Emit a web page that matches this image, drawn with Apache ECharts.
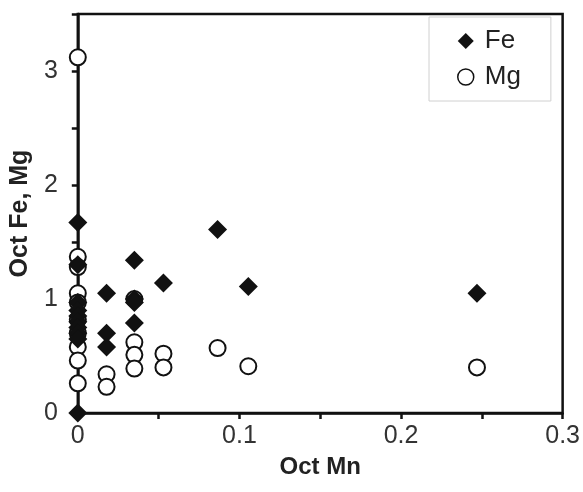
<!DOCTYPE html>
<html><head><meta charset="utf-8">
<script src="https://cdn.jsdelivr.net/npm/echarts@6/dist/echarts.min.js"></script>
<style>html,body{margin:0;padding:0;background:#fff}#c{width:583px;height:492px}</style>
</head><body><div id="c"></div>
<script>
const feX = [0,0,0,0,0,0,0,0,0,0, 0.0178,0.0178,0.0178, 0.035,0.035,0.035,0.035, 0.053, 0.0865, 0.1055, 0.247];
const feY = [1.67,1.30,0.97,0.90,0.85,0.80,0.75,0.70,0.65,0, 1.05,0.70,0.58, 1.34,1.00,0.97,0.79, 1.14, 1.61, 1.11, 1.05];
const mgX = [0,0,0,0,0,0,0,0,0,0, 0.0178,0.0178, 0.035,0.035,0.035,0.035, 0.053,0.053, 0.0865, 0.1055, 0.247];
const mgY = [3.12,1.37,1.28,1.05,0.97,0.82,0.70,0.58,0.46,0.26, 0.34,0.23, 1.00,0.62,0.51,0.39, 0.52,0.40, 0.57, 0.41, 0.40];
const xTicks = [0, 0.1, 0.2, 0.3];
const yTicks = [0, 1, 2, 3];

const fe = feX.map((x,i)=>[x,feY[i]]);
const mg = mgX.map((x,i)=>[x,mgY[i]]);
const near = (v, arr) => arr.some(t => Math.abs(t - v) < 1e-6);
const FONT = 'Liberation Sans, Arial, sans-serif';
const chart = echarts.init(document.getElementById('c'));
chart.setOption({
  animation:false,
  textStyle:{fontFamily:FONT},
  grid:{left:77,right:17,top:14,bottom:79,show:true,borderColor:'#111',borderWidth:2.5,backgroundColor:'transparent'},
  legend:{
    left:429, top:17, orient:'vertical', itemGap:10,
    borderColor:'#d0d0d0', borderWidth:1, padding:[11,30,11,28],
    itemWidth:16,itemHeight:16,
    textStyle:{fontSize:26,color:'#222',fontFamily:FONT,padding:[0,0,0,6]},
    data:[
      {name:'Fe',icon:'diamond',itemStyle:{color:'#111'}},
      {name:'Mg',icon:'circle',itemStyle:{color:'#fff',borderColor:'#111',borderWidth:1.5}}
    ]
  },
  xAxis:{
    type:'value', min:0, max:0.3, interval:0.05,
    name:'Oct Mn', nameLocation:'middle', nameGap:42,
    nameTextStyle:{fontSize:24,fontWeight:'bold',color:'#222'},
    axisLine:{show:true,lineStyle:{color:'#111',width:2.5}},
    axisTick:{show:true,length:6,inside:false,lineStyle:{color:'#111',width:2.5}},
    axisLabel:{fontSize:25,color:'#333',margin:11,formatter:v=>near(v,xTicks)?String(+v.toFixed(2)):''},
    splitLine:{show:false}
  },
  yAxis:{
    type:'value', min:0, max:3.5, interval:0.5,
    name:'Oct Fe, Mg', nameLocation:'middle', nameGap:30,
    nameTextStyle:{fontSize:25,fontWeight:'bold',color:'#222'},
    axisLine:{show:true,lineStyle:{color:'#111',width:2.5}},
    axisTick:{show:true,length:6,inside:false,lineStyle:{color:'#111',width:2.5}},
    axisLabel:{fontSize:25,color:'#333',margin:20,formatter:v=>near(v,yTicks)?String(v):''},
    splitLine:{show:false}
  },
  series:[
    {name:'Fe',type:'scatter',data:fe,symbol:'diamond',symbolSize:19,
     itemStyle:{color:'#111',opacity:1},z:3},
    {name:'Mg',type:'scatter',data:mg,symbol:'circle',symbolSize:16,
     itemStyle:{color:'#fff',borderColor:'#111',borderWidth:2,opacity:1},z:2}
  ]
});
</script></body></html>
